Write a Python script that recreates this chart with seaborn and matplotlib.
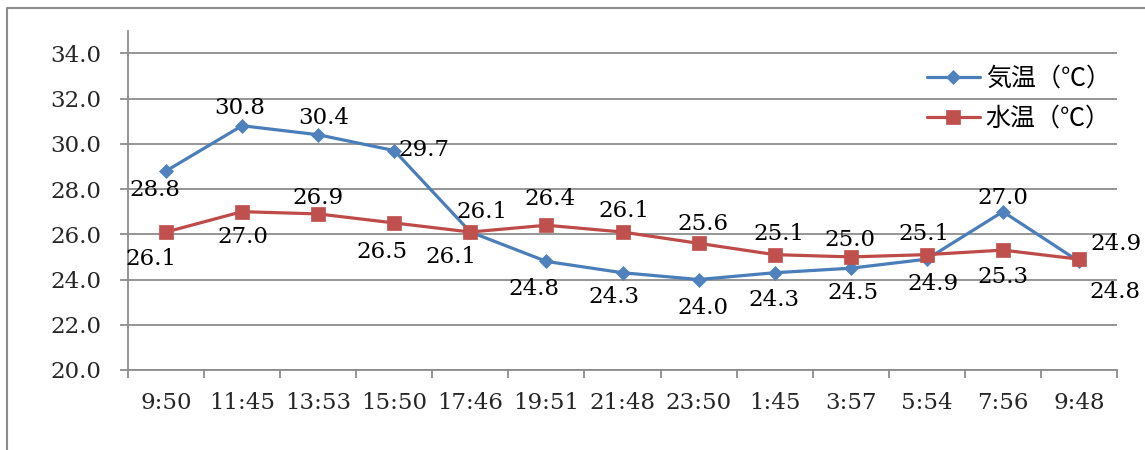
import numpy as np
import pandas as pd
import matplotlib
matplotlib.use("Agg")
import matplotlib.pyplot as plt
from matplotlib.lines import Line2D
from matplotlib.ticker import FixedLocator, FormatStrFormatter
import seaborn as sns

# --- data -----------------------------------------------------------------
times = ["9:50", "11:45", "13:53", "15:50", "17:46", "19:51", "21:48",
         "23:50", "1:45", "3:57", "5:54", "7:56", "9:48"]
air_temp = [28.8, 30.8, 30.4, 29.7, 26.1, 24.8, 24.3, 24.0, 24.3, 24.5, 24.9, 27.0, 24.8]
water_temp = [26.1, 27.0, 26.9, 26.5, 26.1, 26.4, 26.1, 25.6, 25.1, 25.0, 25.1, 25.3, 24.9]
series_names = ["気温（℃）", "水温（℃）"]
y_ticks = [20, 22, 24, 26, 28, 30, 32, 34]

# --- label placement (pixel offsets from each point: right, down) ---------
air_label_offset = [(-11, 17), (-2, -20), (6, -19), (30, -3), (12, -23), (-12, 25),
                    (-9, 22), (4, 26), (-1, 25), (2, 22), (6, 22), (0, -16), (36, 28)]
water_label_offset = [(-15, 24), (1, 23), (0, -18), (-12, 27), (-19, 22), (4, -29),
                      (1, -24), (4, -22), (4, -23), (-1, -19), (-3, -23), (0, 24), (37, -18)]

W, H = 1145, 450
GRID = "#8c8c8c"
BLUE_LINE, BLUE_MARK = "#4A7EBB", "#4F81BD"
RED_LINE, RED_MARK = "#BE4B48", "#C0504D"
NUM_SIZE = 16.5

sns.set_theme(style="white")
plt.rcParams["font.family"] = ["DejaVu Serif"]
plt.rcParams["text.color"] = "black"

pos = np.arange(len(times))
df_air = pd.DataFrame({"pos": pos, "value": air_temp})
df_water = pd.DataFrame({"pos": pos, "value": water_temp})

fig = plt.figure(figsize=(W / 100, H / 100), dpi=100)
ax = fig.add_axes([128 / W, 1 - 370 / H, (1117 - 128) / W, (370 - 30.7) / H])

sns.lineplot(data=df_air, x="pos", y="value", ax=ax, color=BLUE_LINE, lw=2.3,
             marker="D", markersize=7.5, markerfacecolor=BLUE_MARK,
             markeredgecolor=BLUE_MARK, markeredgewidth=0.5,
             label=series_names[0], zorder=3)
sns.lineplot(data=df_water, x="pos", y="value", ax=ax, color=RED_LINE, lw=2.3,
             marker="s", markersize=9.5, markerfacecolor=RED_MARK,
             markeredgecolor=RED_MARK, markeredgewidth=0.5,
             label=series_names[1], zorder=4)

# axes limits, grid and spines
ax.set_xlim(-0.5, len(times) - 0.5)
ax.set_ylim(20, 35)
ax.set_xlabel("")
ax.set_ylabel("")
ax.set_axisbelow(True)
ax.yaxis.grid(True, color=GRID, lw=1.3)
ax.xaxis.grid(False)
for side in ("top", "right"):
    ax.spines[side].set_visible(False)
for side in ("left", "bottom"):
    ax.spines[side].set_color(GRID)
    ax.spines[side].set_linewidth(1.3)

ax.yaxis.set_major_locator(FixedLocator(y_ticks))
ax.yaxis.set_major_formatter(FormatStrFormatter("%.1f"))
ax.tick_params(axis="y", which="major", direction="out", length=6, width=1.3,
               color=GRID, pad=13, labelsize=NUM_SIZE, left=True)

ax.set_xticks(pos)
ax.set_xticklabels(times)
ax.xaxis.set_minor_locator(FixedLocator(np.arange(-0.5, len(times), 1.0)))
ax.tick_params(axis="x", which="major", length=0, pad=16, labelsize=NUM_SIZE)
ax.tick_params(axis="x", which="minor", direction="out", length=6, width=1.3,
               color=GRID, bottom=True)

# data labels
for values, offsets in ((air_temp, air_label_offset), (water_temp, water_label_offset)):
    for i, v in enumerate(values):
        dx, dy = offsets[i]
        ax.annotate(f"{v:.1f}", (i, v), xytext=(dx, -dy), textcoords="offset pixels",
                    ha="center", va="center_baseline", fontsize=NUM_SIZE,
                    annotation_clip=False, zorder=5)

# legend
handles, labels = ax.get_legend_handles_labels()
ax.legend(handles, labels, loc="upper left",
          bbox_to_anchor=(927 / W, 1 - 66 / H), bbox_transform=fig.transFigure,
          frameon=False, borderpad=0, borderaxespad=0, handlelength=2.1,
          handletextpad=0.25, labelspacing=0.55,
          prop={"family": ["Noto Sans CJK JP", "DejaVu Sans"], "size": 18})

# outer chart border (top and left edges)
fig.add_artist(Line2D([7 / W, 7 / W, 1.0], [0.0, 1 - 8 / H, 1 - 8 / H],
                      transform=fig.transFigure, color=GRID, lw=1.5))

fig.savefig("out.png", dpi=100)
